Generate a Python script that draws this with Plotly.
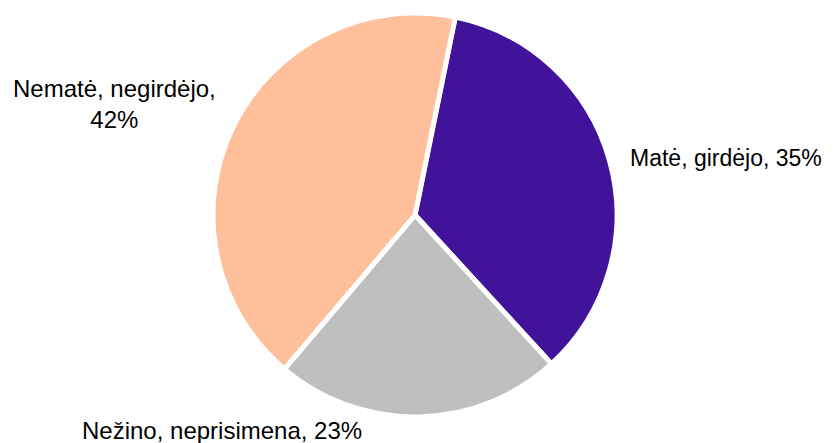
import plotly.graph_objects as go

labels = ["Matė, girdėjo", "Nežino, neprisimena", "Nematė, negirdėjo"]
values = [35, 23, 42]
colors = ["#41129A", "#BFBFBF", "#FFBF9B"]

W, H = 825, 435
OFF = 8  # default page body margin

def px(x):
    return (x - OFF) / W

def py(y):
    return 1 - (y - OFF) / H

fig = go.Figure(go.Pie(
    labels=labels,
    values=values,
    sort=False,
    direction="clockwise",
    rotation=11.5,
    marker=dict(colors=colors, line=dict(color="white", width=5)),
    textinfo="none",
    hoverinfo="label+percent",
    domain=dict(x=[px(213), px(617)], y=[py(417), py(13)]),
    showlegend=False,
))

font = dict(family="Arial, Liberation Sans, sans-serif", size=24, color="#000000")
texts = [f"{labels[0]}, {values[0]}%",
         f"{labels[1]}, {values[1]}%",
         f"{labels[2]},<br>{values[2]}%"]
positions = [
    dict(x=px(824), y=py(158), xanchor="right", yanchor="middle", align="right",
         font=dict(font, size=23)),
    dict(x=px(222), y=py(430), xanchor="center", yanchor="middle", align="center", font=font),
    dict(x=px(114), y=py(104), xanchor="center", yanchor="middle", align="center", font=font),
]
for t, p in zip(texts, positions):
    fig.add_annotation(text=t, xref="paper", yref="paper", showarrow=False, **p)

fig.update_layout(
    width=W, height=H,
    margin=dict(l=0, r=0, t=0, b=0),
    paper_bgcolor="white",
    plot_bgcolor="white",
)
fig.write_html("out.html")
